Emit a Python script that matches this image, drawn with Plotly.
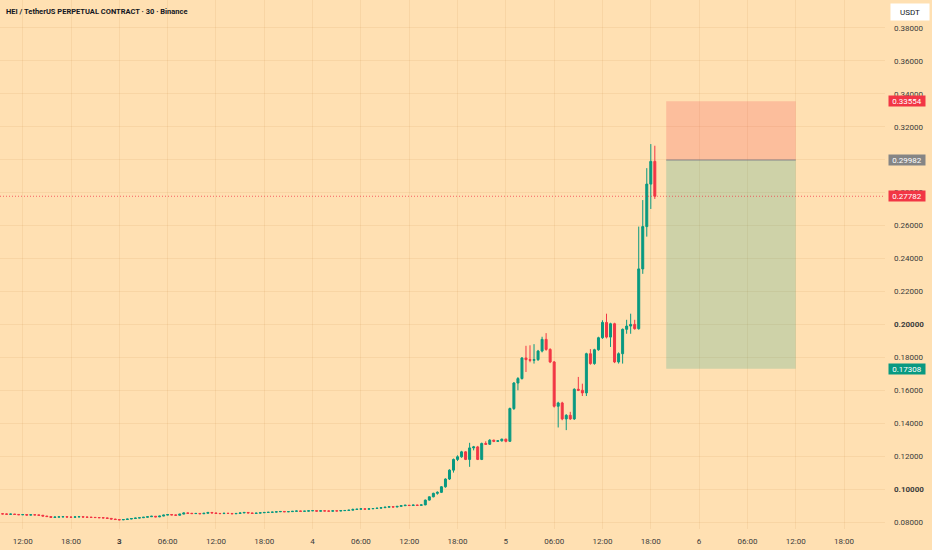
import pandas as pd
import plotly.graph_objects as go

# HEI/USDT perp, 30 min candles
first_open = 0.0850
closes = [
    0.0849, 0.0847, 0.0848, 0.0846, 0.0844, 0.0845, 0.0842, 0.0844, 0.0843, 0.0841,
    0.0836, 0.0833, 0.0828, 0.0830, 0.0831, 0.0832, 0.0830, 0.0829, 0.0831, 0.0832,
    0.0830, 0.0829, 0.0828, 0.0827, 0.0826, 0.0825, 0.0822, 0.0818, 0.0815, 0.0813,
    0.0815, 0.0818, 0.0821, 0.0824, 0.0826, 0.0829, 0.0832, 0.0835, 0.0831, 0.0836,
    0.0842, 0.0845, 0.0843, 0.0841, 0.0848, 0.0855, 0.0853, 0.0851, 0.0852, 0.0850,
    0.0853, 0.0858, 0.0855, 0.0852, 0.0851, 0.0853, 0.0852, 0.0850, 0.0852, 0.0855,
    0.0858, 0.0855, 0.0852, 0.0854, 0.0856, 0.0858, 0.0859, 0.0860, 0.0862, 0.0864,
    0.0862, 0.0863, 0.0865, 0.0867, 0.0865, 0.0866, 0.0868, 0.0869, 0.0866, 0.0868,
    0.0867, 0.0866, 0.0868, 0.0867, 0.0869, 0.0870, 0.0872, 0.0876, 0.0878, 0.0880,
    0.0878, 0.0880, 0.0882, 0.0884, 0.0887, 0.0890, 0.0893, 0.0891, 0.0895, 0.0899,
    0.0902, 0.0900, 0.0903, 0.0901, 0.0904, 0.0933, 0.0953, 0.0974, 0.0980, 0.1014,
    0.1061, 0.1115, 0.1180, 0.1196, 0.1226, 0.1180, 0.1250, 0.1256, 0.1180, 0.1277,
    0.1272, 0.1297, 0.1290, 0.1293, 0.1303, 0.1290, 0.1489, 0.1644, 0.1671, 0.1796,
    0.1786, 0.1782, 0.1786, 0.1838, 0.1909, 0.1848, 0.1772, 0.1503, 0.1523, 0.1426,
    0.1448, 0.1426, 0.1606, 0.1600, 0.1584, 0.1822, 0.1762, 0.1846, 0.1919, 0.2012,
    0.1923, 0.2004, 0.1772, 0.1822, 0.1970, 0.1990, 0.2000, 0.1974, 0.2337, 0.2594,
    0.2852, 0.2990, 0.2778,
]
highs = [
    0.0852, 0.0851, 0.0850, 0.0849, 0.0847, 0.0847, 0.0846, 0.0845, 0.0846, 0.0844,
    0.0842, 0.0837, 0.0834, 0.0832, 0.0833, 0.0834, 0.0834, 0.0831, 0.0833, 0.0834,
    0.0833, 0.0831, 0.0830, 0.0829, 0.0828, 0.0827, 0.0826, 0.0823, 0.0819, 0.0816,
    0.0816, 0.0819, 0.0822, 0.0825, 0.0827, 0.0830, 0.0833, 0.0837, 0.0836, 0.0837,
    0.0843, 0.0847, 0.0846, 0.0844, 0.0849, 0.0857, 0.0856, 0.0854, 0.0855, 0.0853,
    0.0854, 0.0860, 0.0859, 0.0856, 0.0853, 0.0854, 0.0854, 0.0853, 0.0853, 0.0856,
    0.0859, 0.0859, 0.0856, 0.0855, 0.0857, 0.0859, 0.0861, 0.0861, 0.0863, 0.0865,
    0.0865, 0.0864, 0.0866, 0.0868, 0.0868, 0.0867, 0.0869, 0.0871, 0.0870, 0.0869,
    0.0869, 0.0868, 0.0869, 0.0869, 0.0870, 0.0871, 0.0873, 0.0882, 0.0879, 0.0881,
    0.0881, 0.0881, 0.0883, 0.0885, 0.0888, 0.0891, 0.0895, 0.0894, 0.0896, 0.0900,
    0.0903, 0.0903, 0.0904, 0.0904, 0.0906, 0.0936, 0.0955, 0.0978, 0.0986, 0.1018,
    0.1065, 0.1120, 0.1185, 0.1205, 0.1232, 0.1230, 0.1281, 0.1262, 0.1262, 0.1282,
    0.1290, 0.1303, 0.1300, 0.1298, 0.1306, 0.1306, 0.1495, 0.1650, 0.1680, 0.1802,
    0.1870, 0.1873, 0.1880, 0.1845, 0.1925, 0.1947, 0.1855, 0.1778, 0.1530, 0.1530,
    0.1455, 0.1469, 0.1612, 0.1681, 0.1640, 0.1828, 0.1850, 0.1852, 0.1925, 0.2025,
    0.2065, 0.2010, 0.2010, 0.1830, 0.1975, 0.2028, 0.2065, 0.2028, 0.2594, 0.2755,
    0.2949, 0.3095, 0.3085,
]
lows = [
    0.0847, 0.0846, 0.0845, 0.0845, 0.0843, 0.0842, 0.0841, 0.0841, 0.0842, 0.0839,
    0.0835, 0.0831, 0.0826, 0.0827, 0.0829, 0.0830, 0.0829, 0.0827, 0.0828, 0.0830,
    0.0829, 0.0828, 0.0827, 0.0826, 0.0825, 0.0823, 0.0821, 0.0817, 0.0813, 0.0811,
    0.0812, 0.0814, 0.0817, 0.0820, 0.0823, 0.0825, 0.0828, 0.0831, 0.0830, 0.0830,
    0.0835, 0.0841, 0.0842, 0.0840, 0.0840, 0.0847, 0.0852, 0.0850, 0.0850, 0.0849,
    0.0849, 0.0852, 0.0854, 0.0851, 0.0849, 0.0850, 0.0851, 0.0849, 0.0849, 0.0851,
    0.0854, 0.0854, 0.0851, 0.0851, 0.0853, 0.0855, 0.0857, 0.0858, 0.0859, 0.0861,
    0.0861, 0.0861, 0.0862, 0.0864, 0.0864, 0.0864, 0.0865, 0.0867, 0.0865, 0.0865,
    0.0866, 0.0865, 0.0865, 0.0866, 0.0866, 0.0868, 0.0869, 0.0871, 0.0875, 0.0877,
    0.0877, 0.0877, 0.0879, 0.0881, 0.0883, 0.0886, 0.0889, 0.0890, 0.0890, 0.0894,
    0.0898, 0.0899, 0.0899, 0.0900, 0.0900, 0.0902, 0.0930, 0.0950, 0.0966, 0.0976,
    0.1008, 0.1055, 0.1100, 0.1170, 0.1190, 0.1176, 0.1135, 0.1235, 0.1176, 0.1176,
    0.1268, 0.1268, 0.1285, 0.1286, 0.1288, 0.1284, 0.1286, 0.1480, 0.1600, 0.1665,
    0.1711, 0.1770, 0.1762, 0.1778, 0.1830, 0.1840, 0.1765, 0.1495, 0.1374, 0.1418,
    0.1358, 0.1420, 0.1420, 0.1595, 0.1565, 0.1565, 0.1755, 0.1755, 0.1840, 0.1912,
    0.1915, 0.1863, 0.1765, 0.1762, 0.1762, 0.1943, 0.1943, 0.1968, 0.1968, 0.2307,
    0.2533, 0.2701, 0.2762,
]
opens = [first_open] + closes[:-1]
times = pd.date_range("2025-03-02 09:30", periods=len(closes), freq="30min")

# short position tool + last price
stop_price = 0.33554
entry_price = 0.29982
last_price = 0.27782
target_price = 0.17308
pos_start = "2025-03-05 19:55"
pos_end = "2025-03-06 12:00"

x_ticks = pd.date_range("2025-03-02 12:00", "2025-03-06 18:00", freq="6h")
x_labels = ["12:00", "18:00", "<b>3</b>", "06:00", "12:00", "18:00", "4", "06:00", "12:00",
            "18:00", "5", "06:00", "12:00", "18:00", "6", "06:00", "12:00", "18:00"]
y_ticks = [0.08, 0.10, 0.12, 0.14, 0.16, 0.18, 0.20, 0.22, 0.24, 0.26, 0.28, 0.30, 0.32,
           0.34, 0.36, 0.38]
y_labels = ["0.08000", "<b>0.10000</b>", "0.12000", "0.14000", "0.16000", "0.18000",
            "<b>0.20000</b>", "0.22000", "0.24000", "0.26000", "0.28000", "0.30000",
            "0.32000", "0.34000", "0.36000", "0.38000"]

up = "#089981"
down = "#F23645"
bg = "#FFE0B2"
grid = "rgba(200,140,70,0.13)"
txt = "#3b3b3b"

fig = go.Figure(go.Candlestick(
    x=times, open=opens, high=highs, low=lows, close=closes,
    increasing=dict(line=dict(color=up, width=1), fillcolor=up),
    decreasing=dict(line=dict(color=down, width=1), fillcolor=down),
    whiskerwidth=0, showlegend=False, hoverinfo="skip",
))

# risk / reward zones
fig.add_shape(type="rect", x0=pos_start, x1=pos_end, y0=entry_price, y1=stop_price,
              fillcolor="rgba(242,54,69,0.2)", line=dict(width=0), layer="above")
fig.add_shape(type="rect", x0=pos_start, x1=pos_end, y0=target_price, y1=entry_price,
              fillcolor="rgba(8,153,129,0.2)", line=dict(width=0), layer="above")
fig.add_shape(type="line", x0=pos_start, x1=pos_end, y0=entry_price, y1=entry_price,
              line=dict(color="rgba(120,123,134,0.6)", width=1.5))
fig.add_shape(type="line", xref="paper", x0=0, x1=1, y0=last_price, y1=last_price,
              line=dict(color="rgba(242,54,69,0.75)", width=1, dash="1px,2px"))

# price labels on the right scale
ax_x = 907 / 885
for val, col in [(stop_price, down), (entry_price, "#858585"), (last_price, down),
                 (target_price, up)]:
    fig.add_annotation(xref="paper", x=ax_x, y=val, xanchor="center", yanchor="middle",
                       text=f"{val:.5f}", showarrow=False,
                       bgcolor=col, width=36, height=10, borderpad=0,
                       font=dict(size=8, color="white"))

fig.add_annotation(xref="paper", yref="paper", x=909.5 / 885, y=0.995, xanchor="center",
                   yanchor="top", text="USDT", showarrow=False, bgcolor="white",
                   width=36, height=14, font=dict(size=8, color="#131722"))
fig.add_annotation(xref="paper", yref="paper", x=0, y=1, xanchor="left", yanchor="top",
                   xshift=4, yshift=-5,
                   text="<b>HEI / TetherUS PERPETUAL CONTRACT · 30 · Binance</b>",
                   showarrow=False, font=dict(size=7.5, color="#131722"))

fig.update_layout(
    width=932, height=550,
    margin=dict(l=0, r=47, t=0, b=21),
    paper_bgcolor=bg, plot_bgcolor=bg,
    font=dict(family="Roboto", size=8, color=txt),
    showlegend=False,
    xaxis=dict(range=["2025-03-02 09:11", "2025-03-06 23:05"], rangeslider=dict(visible=False),
               tickvals=x_ticks, ticktext=x_labels, showgrid=True, gridcolor=grid,
               zeroline=False, showline=False, ticks="", ticklabelstandoff=6),
    yaxis=dict(range=[0.07575, 0.3970], side="right", tickvals=y_ticks, ticktext=y_labels,
               showgrid=True, gridcolor=grid, zeroline=False, showline=False, ticks="",
               ticklabelstandoff=8),
)

# page body has a default 8px margin, drop it so the chart fills the window
fig.write_html("out.html", config={"displayModeBar": False},
               post_script="document.body.style.margin='0';")
